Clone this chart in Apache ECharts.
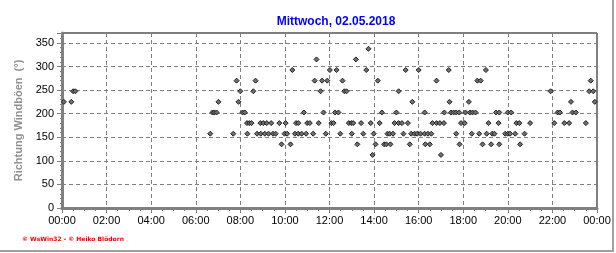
<!DOCTYPE html>
<html><head><meta charset="utf-8">
<script src="https://cdn.jsdelivr.net/npm/echarts@6/dist/echarts.min.js"></script>
<style>html,body{margin:0;padding:0;background:#fff}#c{width:616px;height:253px}</style>
</head><body><div id="c"></div>
<script>
const chartTitle = 'Mittwoch, 02.05.2018';
const yAxisName = 'Richtung Windböen  (°)';
const footerText = '© WsWin32 - © Heiko Blödorn';
const xTickLabels = ['00:00','02:00','04:00','06:00','08:00','10:00','12:00','14:00','16:00','18:00','20:00','22:00','00:00'];
const yTickLabels = ['0','50','100','150','200','250','300','350'];

const times = [
 '00:05','00:25','00:30','00:36','06:39','06:45','06:50','06:56','07:01','07:41',
 '07:50','07:55','08:00','08:06','08:12','08:18','08:19','08:24','08:30','08:35',
 '08:41','08:45','08:54','08:55','09:02','09:06','09:11','09:16','09:23','09:28',
 '09:35','09:45','09:51','09:59','10:02','10:06','10:15','10:20','10:27','10:30',
 '10:36','10:36','10:45','10:51','10:57','11:00','11:07','11:16','11:20','11:25',
 '11:31','11:36','11:40','11:44','11:50','11:54','12:01','12:05','12:11','12:15',
 '12:19','12:24','12:29','12:35','12:40','12:46','12:52','12:59','13:00','13:04',
 '13:11','13:15','13:25','13:31','13:39','13:45','13:51','13:56','13:59','14:04',
 '14:10','14:15','14:21','14:27','14:33','14:36','14:42','14:44','14:51','14:55',
 '15:00','15:06','15:06','15:15','15:19','15:25','15:31','15:36','15:40','15:43',
 '15:49','15:56','16:00','16:05','16:16','16:16','16:18','16:25','16:30','16:34',
 '16:37','16:48','16:48','16:57','17:00','17:08','17:09','17:21','17:23','17:27',
 '17:34','17:41','17:41','17:49','17:50','17:54','18:04','18:06','18:15','18:18',
 '18:23','18:25','18:33','18:38','18:43','18:47','18:52','19:01','19:03','19:08',
 '19:15','19:18','19:24','19:28','19:35','19:37','19:37','19:53','20:00','20:00',
 '20:06','20:09','20:20','20:23','20:31','20:33','20:45','21:00','21:55','22:05',
 '22:14','22:20','22:32','22:45','22:50','22:54','23:03','23:30','23:39','23:43',
 '23:50','23:54'
];
const directions = [
 225,225,247.5,247.5,157.5,202.5,202.5,202.5,225,157.5,
 270,225,247.5,202.5,202.5,180,157.5,180,180,247.5,
 270,157.5,180,157.5,180,157.5,180,157.5,180,157.5,
 157.5,180,135,157.5,180,157.5,135,292.5,157.5,180,
 180,157.5,157.5,202.5,157.5,180,180,157.5,270,315,
 180,247.5,270,202.5,157.5,270,292.5,180,180,202.5,
 292.5,202.5,157.5,270,247.5,247.5,180,180,157.5,180,
 315,135,180,157.5,292.5,337.5,180,112.5,157.5,135,
 270,180,202.5,135,135,157.5,157.5,135,157.5,180,
 202.5,180,247.5,180,157.5,292.5,180,135,157.5,225,
 157.5,157.5,292.5,157.5,157.5,202.5,135,157.5,135,157.5,
 180,270,180,180,112.5,180,202.5,292.5,225,202.5,
 202.5,202.5,157.5,202.5,135,180,180,202.5,225,202.5,
 157.5,202.5,202.5,270,157.5,270,135,292.5,157.5,180,
 135,157.5,157.5,202.5,180,202.5,135,157.5,202.5,157.5,
 157.5,202.5,157.5,180,180,135,157.5,180,247.5,180,
 202.5,202.5,180,180,225,202.5,202.5,180,247.5,270,
 247.5,225
];

function toMinutes(s){const p=s.split(':');return (+p[0])*60+(+p[1]);}
const seriesData = times.map((t,i)=>[toMinutes(t), directions[i]]);

const chart = echarts.init(document.getElementById('c'), null, {renderer:'canvas'});
const FONT = '"Liberation Sans", Arial, sans-serif';
chart.setOption({
  animation:false,
  backgroundColor:'#ffffff',
  title:{
    text: chartTitle, left: 331, top: 11, textAlign:'center',
    textStyle:{color:'#0000ff', fontSize:12, fontWeight:'bold', fontFamily:FONT}
  },
  grid:{left:62, right:19, top:33, bottom:45, show:true, borderColor:'#000000', borderWidth:1, backgroundColor:'transparent'},
  xAxis:{
    type:'value', min:0, max:1440, interval:120,
    axisLine:{show:true, onZero:false, lineStyle:{color:'#808080', width:3}},
    axisTick:{show:true, inside:false, length:5, lineStyle:{color:'#808080'}},
    minorTick:{show:true, splitNumber:4, length:3, lineStyle:{color:'#808080'}},
    axisLabel:{color:'#000', fontSize:11, fontFamily:FONT, margin:7,
      formatter:function(v){const i=Math.round(v/120);return (v%120===0)?xTickLabels[i]:'';}},
    splitLine:{show:true, lineStyle:{color:'#808080', type:[4,3], width:1}}
  },
  yAxis:{
    type:'value', min:0, max:371, interval:50,
    name: yAxisName, nameLocation:'middle', nameGap:35,
    nameTextStyle:{color:'#909090', fontSize:11, fontFamily:FONT, fontWeight:'bold'},
    axisLine:{show:true, onZero:false, lineStyle:{color:'#808080', width:3}},
    axisTick:{show:true, inside:false, length:5, lineStyle:{color:'#808080'}},
    minorTick:{show:true, splitNumber:5, length:2, lineStyle:{color:'#808080'}},
    axisLabel:{color:'#000', fontSize:11, fontFamily:FONT, margin:8, showMaxLabel:false,
      formatter:function(v){return (v%50===0)?yTickLabels[v/50]:'';}},
    splitLine:{show:true, lineStyle:{color:'#808080', type:[4,3], width:1}}
  },
  graphic:[
    {type:'polyline', shape:{points:[[613,0],[613,251],[0,251]]}, style:{stroke:'#a0a0a0', lineWidth:2, fill:null}, silent:true},
    {type:'text', x:22, y:239, style:{text:footerText, fill:'#ff0000', font:'bold 6px "DejaVu Sans", sans-serif', verticalAlign:'middle'}, silent:true}
  ],
  series:[{
    type:'scatter', data: seriesData, symbol:'diamond', symbolSize:5,
    itemStyle:{color:'#707070', borderColor:'#202020', borderWidth:1, opacity:1}
  }]
});
</script></body></html>
